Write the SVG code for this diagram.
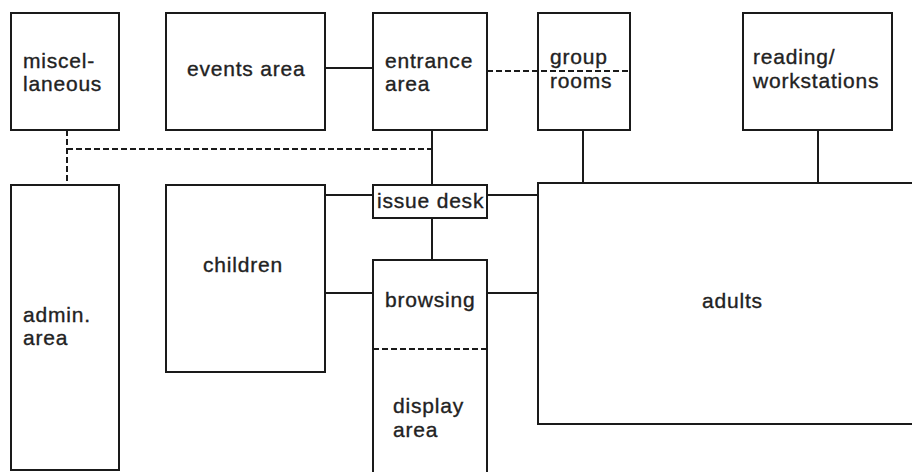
<svg xmlns="http://www.w3.org/2000/svg" width="912" height="472" viewBox="0 0 912 472">
<style>
.box{fill:none;stroke:#1a1a1a;stroke-width:2}
.ln{fill:none;stroke:#1a1a1a;stroke-width:2}
.dash{fill:none;stroke:#1a1a1a;stroke-width:2;stroke-dasharray:6 3}
text{font-family:"Liberation Sans",Arial,sans-serif;font-size:21px;fill:#222;stroke:#222;stroke-width:0.35;letter-spacing:0.8px}
</style>
<rect width="912" height="472" fill="#fff"/>
<g id="connectors">
<line class="ln" x1="325" y1="68" x2="373" y2="68"/>
<line class="dash" x1="487" y1="71" x2="630" y2="71"/>
<line class="dash" x1="67" y1="130" x2="67" y2="184"/>
<line class="dash" x1="67" y1="149" x2="432" y2="149"/>
<line class="ln" x1="432" y1="130" x2="432" y2="185"/>
<line class="ln" x1="583" y1="130" x2="583" y2="183"/>
<line class="ln" x1="818" y1="130" x2="818" y2="183"/>
<line class="ln" x1="325" y1="195" x2="373" y2="195"/>
<line class="ln" x1="487" y1="195" x2="538" y2="195"/>
<line class="ln" x1="432" y1="218" x2="432" y2="260"/>
<line class="ln" x1="325" y1="293" x2="373" y2="293"/>
<line class="ln" x1="487" y1="293" x2="538" y2="293"/>
</g>
<g id="miscellaneous">
<rect class="box" x="11" y="13" width="108" height="117"/>
<text x="23" y="68">miscel-</text>
<text x="23" y="91">laneous</text>
</g>
<g id="events-area">
<rect class="box" x="166" y="13" width="159" height="117"/>
<text x="187" y="76">events area</text>
</g>
<g id="entrance-area">
<rect class="box" x="373" y="13" width="114" height="117"/>
<text x="385" y="68">entrance</text>
<text x="385" y="91">area</text>
</g>
<g id="group-rooms">
<rect class="box" x="538" y="13" width="92" height="117"/>
<text x="550" y="64">group</text>
<text x="550" y="88">rooms</text>
</g>
<g id="reading-workstations">
<rect class="box" x="743" y="13" width="149" height="117"/>
<text x="753" y="64">reading/</text>
<text x="753" y="88">workstations</text>
</g>
<g id="admin-area">
<rect class="box" x="11" y="185" width="108" height="285"/>
<text x="23" y="322">admin.</text>
<text x="23" y="345">area</text>
</g>
<g id="children">
<rect class="box" x="166" y="185" width="159" height="187"/>
<text x="203" y="272">children</text>
</g>
<g id="issue-desk">
<rect class="box" x="373" y="185" width="114" height="33"/>
<text x="377" y="208">issue desk</text>
</g>
<g id="browsing">
<path class="ln" d="M373,349 V260 H487 V349"/>
<line class="dash" x1="373" y1="349" x2="487" y2="349"/>
<text x="385" y="307">browsing</text>
</g>
<g id="display-area">
<path class="ln" d="M373,349 V474 M487,349 V474"/>
<text x="393" y="413">display</text>
<text x="393" y="437">area</text>
</g>
<g id="adults">
<path class="ln" d="M914,183 H538 V424 H914"/>
<text x="702" y="308">adults</text>
</g>
</svg>
